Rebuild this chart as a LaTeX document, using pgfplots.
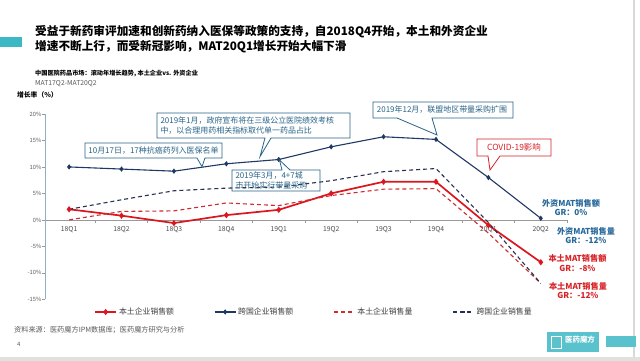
\documentclass[border=0pt]{standalone}
\usepackage{pgfplots}
\pgfplotsset{compat=1.18}
\usepackage{fontspec}
\setmainfont{Noto Sans CJK SC}
\definecolor{cred}{RGB}{220,22,30}
\definecolor{cnavy}{RGB}{31,56,100}
\definecolor{cdred}{RGB}{205,45,50}
\definecolor{cdnavy}{RGB}{38,48,80}
\definecolor{annot}{RGB}{40,100,135}
\definecolor{axblue}{RGB}{140,175,205}
\definecolor{tealbar}{RGB}{60,183,196}
\definecolor{lblue}{RGB}{40,105,155}
\definecolor{lred}{RGB}{215,35,40}
\definecolor{txtgray}{RGB}{89,89,89}
\begin{document}
\begin{tikzpicture}
\fill[white] (0,0) rectangle (640bp,361bp);
\path[use as bounding box] (0,0) rectangle (640bp,361bp);
\begin{axis}[
 at={(45bp,61.7bp)}, anchor=south west,
 scale only axis, width=522bp, height=185.3bp,
 xmin=-0.46, xmax=9.5, ymin=-15, ymax=20,
 clip=false,
 axis y line=left, axis x line=middle,
 axis line style={-},
 x axis line style={draw=black!40, line width=0.6bp},
 y axis line style={draw=axblue, line width=0.8bp},
 xtick={0,...,9},
 xticklabels={18Q1,18Q2,18Q3,18Q4,19Q1,19Q2,19Q3,19Q4,20Q1,20Q2},
 minor xtick={0.5,1.5,...,9.5},
 ytick={-15,-10,...,20},
 minor ytick={-15,-10,...,20},
 major tick length=0pt, minor tick length=3bp,
 tick align=outside,
 minor tick style={draw=black!40, line width=0.5bp},
 yticklabel={\pgfmathprintnumber{\tick}\%},
 /pgf/number format/assume math mode=true,
 xticklabel style={font=\fontsize{6.8}{8}\selectfont, text=black!70, yshift=-3bp},
 yticklabel style={font=\fontsize{5.8}{7}\selectfont, text=txtgray},
 legend columns=4,
 legend style={at={(0.5153,-0.0685)}, anchor=center, draw=none, fill=none,
   font=\fontsize{7.9}{9}\selectfont, text=black!75,
   /tikz/every even column/.append style={column sep=38bp}, inner sep=0pt},
 legend image code/.code={\draw[mark repeat=2,mark phase=2,#1] plot coordinates {(0bp,0bp) (10.5bp,0bp) (21bp,0bp)};},
]
\addplot[cred, line width=1.7bp, mark=diamond*, mark size=1.8bp, mark options={solid}] coordinates {
(0,2.0) (1,0.8) (2,-0.6) (3,0.9) (4,1.9) (5,5.0) (6,7.2) (7,7.2) (8,-1.0) (9,-8.0)};
\addlegendentry{本土企业销售额}
\addplot[cnavy, line width=1.1bp, mark=diamond*, mark size=1.8bp, mark options={solid}] coordinates {
(0,10.0) (1,9.6) (2,9.2) (3,10.6) (4,11.4) (5,13.8) (6,15.7) (7,15.2) (8,8.0) (9,0.3)};
\addlegendentry{跨国企业销售额}
\addplot[cdred, line width=1.1bp, dash pattern=on 4bp off 3bp] coordinates {
(0,0.0) (1,1.6) (2,1.7) (3,3.2) (4,2.7) (5,4.6) (6,5.8) (7,5.9) (8,-2.5) (9,-12.0)};
\addlegendentry{本土企业销售量}
\addplot[cdnavy, line width=1.1bp, dash pattern=on 4bp off 3bp] coordinates {
(0,2.0) (1,3.8) (2,5.5) (3,6.0) (4,6.2) (5,7.4) (6,9.1) (7,9.7) (8,-0.5) (9,-12.0)};
\addlegendentry{跨国企业销售量}
\end{axis}
\begin{scope}[x=1bp,y=1bp]
% borders
\fill[black!12] (0,0) rectangle (640,4);
\draw[black!15, line width=1.2bp] (634,4) -- (634,361);
% title
\fill[tealbar] (0,314) rectangle (22,324);
\node[anchor=west, inner sep=0pt, font=\fontsize{11.7}{14}\selectfont\bfseries] at (35,329.3) {受益于新药审评加速和创新药纳入医保等政策的支持，自2018Q4开始，本土和外资企业};
\node[anchor=west, inner sep=0pt, font=\fontsize{11.7}{14}\selectfont\bfseries] at (35,314.3) {增速不断上行，而受新冠影响，MAT20Q1增长开始大幅下滑};
\node[anchor=west, inner sep=0pt, font=\fontsize{6.2}{7}\selectfont\bfseries] at (35,287) {中国医院药品市场：滚动年增长趋势, 本土企业vs. 外资企业};
\node[anchor=west, inner sep=0pt, text=txtgray, font=\fontsize{6.8}{8}\selectfont] at (35,277) {MAT17Q2-MAT20Q2};
\node[anchor=west, inner sep=0pt, font=\fontsize{6.8}{8}\selectfont\bfseries] at (17,266) {增长率（\%）};
% callout A
\draw[annot, line width=0.8bp, fill=white] (85,218) -- (222,218) -- (222,203) -- (205,203) -- (202,194.3) -- (197,203) -- (85,203) -- cycle;
\node[annot, font=\fontsize{8}{10}\selectfont] at (153.5,210.5) {10月17日，17种抗癌药列入医保名单};
% callout B
\draw[annot, line width=0.8bp, fill=white] (157,248) -- (350,248) -- (350,223) -- (271,223) -- (260,204.3) -- (265,223) -- (157,223) -- cycle;
\node[annot, anchor=west, align=left, font=\fontsize{8}{10}\selectfont] at (157,235.5) {2019年1月，政府宣布将在三级公立医院绩效考核\\中，以合理用药相关指标取代单一药品占比};
% callout C
\draw[annot, line width=0.8bp] (232,191) -- (282,191) -- (279.5,201) -- (290,191) -- (320,191) -- (320,170) -- (232,170) -- cycle;
\node[annot, anchor=west, align=left, font=\fontsize{8}{10}\selectfont] at (232,180.5) {2019年3月，4+7城\\市开始实行带量采购};
% callout D
\draw[annot, line width=0.8bp, fill=white] (373,259) -- (513,259) -- (513,243) -- (432,243) -- (437,226) -- (397,243) -- (373,243) -- cycle;
\node[annot, font=\fontsize{8}{10}\selectfont] at (442,251) {2019年12月，联盟地区带量采购扩围};
% callout E
\draw[lred, line width=0.8bp, fill=white] (477,222) -- (551,222) -- (551,205) -- (500,205) -- (490,191) -- (488,205) -- (477,205) -- cycle;
\node[lred, font=\fontsize{8.5}{10}\selectfont] at (514,213.5) {COVID-19影响};
% right labels
\node[lblue, align=center, font=\fontsize{8.2}{9.3}\selectfont\bfseries] at (571,153.8) {外资MAT销售额\\GR：0\%};
\node[lblue, align=center, font=\fontsize{8.2}{9.3}\selectfont\bfseries] at (586,125.2) {外资MAT销售量\\GR：-12\%};
\node[lred, align=center, font=\fontsize{8.2}{9.3}\selectfont\bfseries] at (577.5,98) {本土MAT销售额\\GR：-8\%};
\node[lred, align=center, font=\fontsize{8.2}{9.3}\selectfont\bfseries] at (578,70.5) {本土MAT销售量\\GR：-12\%};
% footer
\node[anchor=west, inner sep=0pt, text=txtgray, font=\fontsize{7.2}{8}\selectfont] at (14,31) {资料来源：医药魔方IPM数据库；医药魔方研究与分析};
\node[anchor=west, inner sep=0pt, text=txtgray, font=\fontsize{6}{7}\selectfont] at (17,17) {4};
% logo
\fill[tealbar!85!white] (547,9) rectangle (599,29);
\draw[white, line width=0.8bp] (551,13) rectangle (561,25);
\node[white, font=\fontsize{7.5}{8}\selectfont\bfseries] at (580,21) {医药魔方};
\fill[tealbar!85!white] (606,14) rectangle (636,25);
\end{scope}
\end{tikzpicture}
\end{document}
